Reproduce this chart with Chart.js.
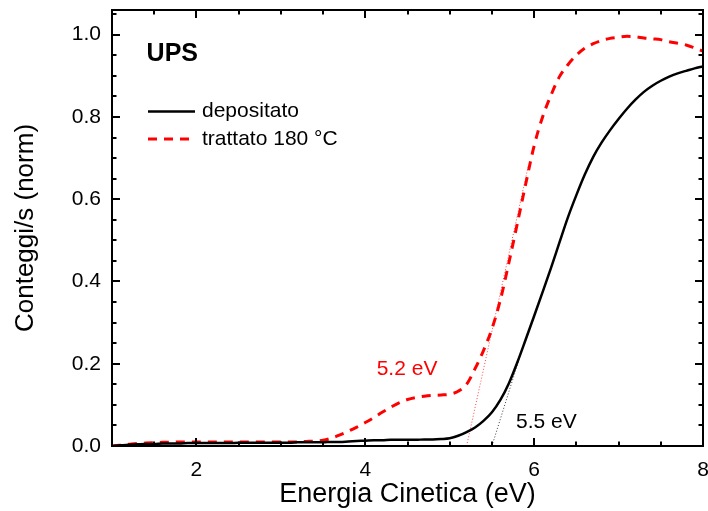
<!DOCTYPE html>
<html>
<head>
<meta charset="utf-8">
<script src="https://cdn.jsdelivr.net/npm/chart.js@4/dist/chart.umd.min.js"></script>
<style>
  html, body { margin: 0; padding: 0; background: #fff; }
  #wrap { width: 708px; height: 511px; }
</style>
</head>
<body>
<div id="wrap"><canvas id="c" width="708" height="511"></canvas></div>
<script>
// Kinetic energy grid (eV)
const energy = [
  1.0,1.1,1.2,1.3,1.4,1.5,1.6,1.7,1.8,1.9,
  2.0,2.1,2.2,2.3,2.4,2.5,2.6,2.7,2.8,2.9,
  3.0,3.1,3.2,3.3,3.4,3.5,3.6,3.7,3.8,3.9,
  4.0,4.1,4.2,4.3,4.4,4.5,4.6,4.7,4.8,4.9,
  5.0,5.1,5.2,5.3,5.4,5.5,5.6,5.7,5.8,5.9,
  6.0,6.1,6.2,6.3,6.4,6.5,6.6,6.7,6.8,6.9,
  7.0,7.1,7.2,7.3,7.4,7.5,7.6,7.7,7.8,7.9,
  8.0
];

// Normalised counts, as-deposited film
const depositato = [
  0.000,0.002,0.003,0.004,0.005,0.005,0.006,0.006,0.006,0.007,
  0.007,0.007,0.007,0.007,0.007,0.008,0.008,0.008,0.008,0.008,
  0.008,0.008,0.009,0.009,0.009,0.009,0.010,0.010,0.011,0.012,
  0.013,0.014,0.014,0.015,0.015,0.015,0.015,0.016,0.016,0.017,
  0.019,0.025,0.034,0.045,0.061,0.082,0.112,0.152,0.203,0.259,
  0.316,0.374,0.433,0.495,0.556,0.610,0.660,0.703,0.738,0.768,
  0.795,0.820,0.842,0.861,0.876,0.888,0.898,0.906,0.912,0.918,
  0.923
];

// Normalised counts, film annealed at 180 °C
const trattato = [
  0.000,0.002,0.004,0.006,0.007,0.008,0.009,0.009,0.010,0.010,
  0.010,0.010,0.010,0.010,0.010,0.010,0.010,0.010,0.010,0.010,
  0.010,0.010,0.010,0.011,0.012,0.014,0.019,0.027,0.036,0.046,
  0.057,0.069,0.082,0.094,0.105,0.113,0.118,0.121,0.123,0.124,
  0.126,0.133,0.150,0.188,0.232,0.285,0.355,0.445,0.540,0.637,
  0.730,0.800,0.853,0.898,0.927,0.950,0.967,0.978,0.986,0.991,
  0.994,0.996,0.995,0.992,0.990,0.988,0.983,0.979,0.975,0.968,
  0.960
];

// Onset tangents (extrapolated to zero counts)
const tangentTrattatoX = [5.2, 5.93];
const tangentTrattatoY = [0.0, 0.68];
const tangentDepositatoX = [5.5, 5.82];
const tangentDepositatoY = [0.0, 0.21];

// Axis ticks
const xTickLabels = [2, 4, 6, 8];
const xMinorTicks = [1.5, 2.5, 3, 3.5, 4.5, 5, 5.5, 6.5, 7, 7.5];
const yTickLabels = [0.0, 0.2, 0.4, 0.6, 0.8, 1.0];
const yMinorTicks = [0.05, 0.1, 0.15, 0.25, 0.3, 0.35, 0.45, 0.5, 0.55, 0.65, 0.7, 0.75, 0.85, 0.9, 0.95, 1.05];

const FONT = "'Liberation Sans', Arial, Helvetica, sans-serif";

const pts = (xs, ys) => xs.map((x, i) => ({ x: x, y: ys[i] }));

// Inward tick marks on all four sides plus the plot frame
const framePlugin = {
  id: 'frameTicks',
  afterDatasetsDraw(chart) {
    const { ctx, chartArea: a, scales: { x, y } } = chart;
    ctx.save();
    ctx.strokeStyle = '#000';
    ctx.lineWidth = 2;
    const major = 8, minor = 4.5;
    const xTick = (v, len) => {
      const px = Math.round(x.getPixelForValue(v));
      ctx.beginPath();
      ctx.moveTo(px, a.bottom); ctx.lineTo(px, a.bottom - len);
      ctx.moveTo(px, a.top); ctx.lineTo(px, a.top + len);
      ctx.stroke();
    };
    const yTick = (v, len) => {
      const py = Math.round(y.getPixelForValue(v));
      ctx.beginPath();
      ctx.moveTo(a.left, py); ctx.lineTo(a.left + len, py);
      ctx.moveTo(a.right, py); ctx.lineTo(a.right - len, py);
      ctx.stroke();
    };
    xTickLabels.forEach(v => xTick(v, major));
    xMinorTicks.forEach(v => xTick(v, minor));
    yTickLabels.forEach(v => yTick(v, major));
    yMinorTicks.forEach(v => yTick(v, minor));
    ctx.strokeRect(a.left, a.top, a.right - a.left, a.bottom - a.top);
    ctx.restore();
  }
};

// In-plot legend and text labels
const labelsPlugin = {
  id: 'plotLabels',
  afterDraw(chart, args, opts) {
    const { ctx, scales: { x, y } } = chart;
    ctx.save();
    ctx.textBaseline = 'middle';
    ctx.textAlign = 'left';
    (opts.texts || []).forEach(t => {
      ctx.font = t.font;
      ctx.fillStyle = t.color;
      ctx.fillText(t.text, x.getPixelForValue(t.x), y.getPixelForValue(t.y));
    });
    const lg = opts.legend;
    lg.items.forEach((idx, i) => {
      const ds = chart.data.datasets[idx];
      const yy = lg.top + i * lg.rowGap;
      ctx.beginPath();
      ctx.strokeStyle = ds.borderColor;
      ctx.lineWidth = ds.borderWidth;
      ctx.setLineDash(ds.borderDash || []);
      ctx.moveTo(lg.left, yy);
      ctx.lineTo(lg.left + lg.sample, yy);
      ctx.stroke();
      ctx.setLineDash([]);
      ctx.font = lg.font;
      ctx.fillStyle = '#000';
      ctx.fillText(ds.label, lg.left + lg.sample + lg.gap, yy);
    });
    ctx.restore();
  }
};

new Chart(document.getElementById('c'), {
  type: 'line',
  data: {
    datasets: [
      {
        label: 'depositato',
        data: pts(energy, depositato),
        borderColor: '#000000',
        borderWidth: 2.5,
        pointRadius: 0,
        cubicInterpolationMode: 'monotone'
      },
      {
        label: 'trattato 180 °C',
        data: pts(energy, trattato),
        borderColor: '#ff0000',
        borderWidth: 3,
        borderDash: [9, 7],
        pointRadius: 0,
        cubicInterpolationMode: 'monotone'
      },
      {
        label: 'tangente trattato',
        data: pts(tangentTrattatoX, tangentTrattatoY),
        borderColor: 'rgba(255,40,40,0.85)',
        borderWidth: 1,
        borderDash: [1, 2],
        pointRadius: 0,
        tension: 0
      },
      {
        label: 'tangente depositato',
        data: pts(tangentDepositatoX, tangentDepositatoY),
        borderColor: 'rgba(40,40,40,0.9)',
        borderWidth: 1,
        borderDash: [1, 2],
        pointRadius: 0,
        tension: 0
      }
    ]
  },
  options: {
    responsive: false,
    animation: false,
    devicePixelRatio: 1,
    layout: { padding: { top: 10, right: 5, left: 0, bottom: 0 } },
    plugins: {
      legend: { display: false },
      tooltip: { enabled: false },
      plotLabels: {
        texts: [
          { text: 'UPS', x: 1.41, y: 0.953, font: 'bold 25px ' + FONT, color: '#000' },
          { text: '5.2 eV', x: 4.135, y: 0.186, font: '21px ' + FONT, color: '#ff0000' },
          { text: '5.5 eV', x: 5.785, y: 0.058, font: '21px ' + FONT, color: '#000' }
        ],
        legend: { items: [0, 1], left: 148, top: 111.5, rowGap: 27.5, sample: 47, gap: 7, font: '21px ' + FONT }
      }
    },
    scales: {
      x: {
        type: 'linear',
        min: 1,
        max: 8,
        afterBuildTicks: s => { s.ticks = xTickLabels.map(v => ({ value: v })); },
        afterFit: s => { s.height = 65; s.paddingLeft = 0; s.paddingRight = 0; },
        grid: { display: false, drawTicks: false },
        border: { display: false },
        ticks: {
          color: '#000',
          font: { family: FONT, size: 21 },
          padding: 12,
          maxRotation: 0,
          autoSkip: false,
          callback: v => String(v)
        },
        title: {
          display: true,
          text: 'Energia Cinetica (eV)',
          color: '#000',
          font: { family: FONT, size: 27 },
          padding: { top: 0, bottom: 0 }
        }
      },
      y: {
        type: 'linear',
        min: 0,
        max: 1.06,
        afterBuildTicks: s => { s.ticks = yTickLabels.map(v => ({ value: v })); },
        afterFit: s => { s.width = 112; s.paddingTop = 0; s.paddingBottom = 0; },
        grid: { display: false, drawTicks: false },
        border: { display: false },
        ticks: {
          color: '#000',
          font: { family: FONT, size: 21 },
          padding: 11,
          callback: v => v.toFixed(1)
        },
        title: {
          display: true,
          text: 'Conteggi/s (norm)',
          color: '#000',
          font: { family: FONT, size: 26 },
          padding: { top: 10, bottom: 0 }
        }
      }
    }
  },
  plugins: [framePlugin, labelsPlugin]
});
</script>
</body>
</html>
